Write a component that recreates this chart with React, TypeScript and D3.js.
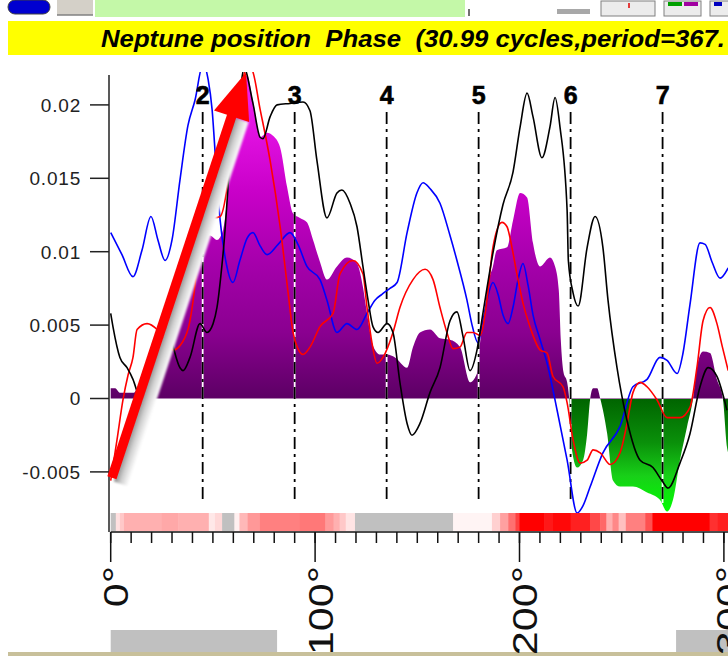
import React from 'react';
import * as d3 from 'd3';

const title = 'Neptune position  Phase  (30.99 cycles,period=367.';
const yTicks = [0.02, 0.015, 0.01, 0.005, 0, -0.005];
const yTickLabels = ['0.02', '0.015', '0.01', '0.005', '0', '-0.005'];
const xMajorTicks = [0, 100, 200, 300];
const xMajorLabels = ['0°', '100°', '200°', '300°'];
const xMinorTicks = d3.range(0, 301, 10);
const phaseLines = [45, 90, 135, 180, 225, 270];
const phaseLabels = ['2', '3', '4', '5', '6', '7'];

// [degree, value]
const fillSeries: [number, number][] = [
  [0, 0.0007], [2.2, 0.0007], [4.5, 0.0004], [8, 0.0004], [11.4, 0.0004], [14.3, 0.0011],
  [19.2, 0.0021], [24.1, 0.0033], [27.5, 0.0042], [30.5, 0.0053], [34.9, 0.0067], [37.3, 0.0074],
  [39.8, 0.0094], [42.2, 0.0105], [45.2, 0.011], [48.6, 0.0111], [52, 0.0108], [55, 0.0115],
  [56.9, 0.0135], [59.8, 0.0185], [63.2, 0.0208], [66.7, 0.022], [69.6, 0.0203], [73.1, 0.0178],
  [76.5, 0.0181], [79.4, 0.0179], [82.9, 0.0171], [86.3, 0.0144], [89.2, 0.0126], [92.6, 0.0123],
  [96, 0.012], [99, 0.0108], [102.4, 0.0093], [105.8, 0.0081], [110.7, 0.009], [115.6, 0.0096],
  [120.5, 0.0092], [123.4, 0.0076], [125.4, 0.0058], [128.3, 0.0036], [131.8, 0.003], [135.2, 0.003],
  [139.1, 0.0028], [145, 0.0021], [147.9, 0.0035], [151.3, 0.0045], [156.2, 0.0047], [161.1, 0.0041],
  [166, 0.004], [170.9, 0.0035], [175.8, 0.0011], [179.2, 0.0017], [180.7, 0.0038], [183.1, 0.006],
  [184.1, 0.0074], [187, 0.009], [188.9, 0.0101], [193.9, 0.0103], [196.8, 0.0121], [200.3, 0.014],
  [203.7, 0.0137], [206.6, 0.0106], [210.1, 0.009], [214.9, 0.0096], [217.4, 0.009], [219.2, 0.0074],
  [220.2, 0.004], [221.5, 0.0018], [223.3, 0.0011], [224.3, 0], [225.7, -0.0035], [228.2, -0.0047],
  [231.1, -0.0042], [233.1, -0.0024], [234.6, 0], [236, 0.0007], [238, 0.0007], [239.5, 0],
  [242.9, -0.0024], [245.8, -0.0056], [249.2, -0.006], [255.5, -0.006], [262.4, -0.0064],
  [268.7, -0.0069], [272.2, -0.0077], [275.1, -0.0069], [278.5, -0.0042], [282, -0.0019], [284.9, 0],
  [286.8, 0.0021], [289.8, 0.0032], [293.2, 0.0031], [296.6, 0.0013], [299.5, 0], [301.5, -0.0033],
  [303, -0.004],
];

const blueSeries: [number, number][] = [
  [0, 0.0113], [5.5, 0.0098], [10.9, 0.0083], [15.3, 0.0101], [19.7, 0.0124], [23.1, 0.0108],
  [26.6, 0.0094], [30, 0.0108], [33.9, 0.0149], [37.8, 0.0186], [41.2, 0.0203], [45.2, 0.0228],
  [47.7, 0.0217], [49.6, 0.0197], [51.5, 0.0159], [53.5, 0.0122], [56.4, 0.0093], [59.8, 0.0079],
  [63.2, 0.0094], [66.7, 0.0109], [69.6, 0.0113], [73.1, 0.0104], [76.5, 0.0098], [81.9, 0.0105],
  [87.7, 0.0113], [91.6, 0.0105], [96, 0.009], [102.4, 0.0081], [105.8, 0.0067], [110.7, 0.0045],
  [115.6, 0.0051], [120.5, 0.0047], [125.4, 0.0058], [129.3, 0.0067], [132.7, 0.0071], [136.6, 0.0075],
  [140.1, 0.0079], [145, 0.0113], [149.8, 0.014], [152.8, 0.0147], [156.2, 0.0143], [161.1, 0.0133],
  [166, 0.0111], [169.4, 0.0094], [174.3, 0.0067], [176.8, 0.005], [179.7, 0.0038], [182.1, 0.0053],
  [184.1, 0.0067], [187, 0.0079], [189.5, 0.0071], [191.9, 0.0057], [194.4, 0.0051], [196.8, 0.0062],
  [199.3, 0.0081], [201.7, 0.0092], [204.2, 0.0077], [206.6, 0.0057], [210.1, 0.004], [213.5, 0.0024],
  [218.4, -0.0008], [223.3, -0.0042], [228.2, -0.0078], [231.1, -0.0073], [234.6, -0.006],
  [240.8, -0.0037], [249.2, -0.0019], [255.5, 0.0008], [262.4, 0.0013], [268.7, 0.0028],
  [272.2, 0.0026], [277.1, 0.0017], [280, 0.0031], [283.4, 0.0064], [288.3, 0.0106], [290.8, 0.0105],
  [294.2, 0.0093], [298.1, 0.0082], [302.1, 0.0089],
];

const redSeries: [number, number][] = [
  [0, -0.0056], [3.1, -0.0028], [6, -0.0001], [8.5, 0.0016], [10.9, 0.0028], [12.9, 0.0047],
  [17.8, 0.0051], [22.7, 0.0047], [27.5, 0.0038], [30.5, 0.0033], [34.9, 0.0038], [38.8, 0.0053],
  [41.2, 0.0077], [43.7, 0.0117], [47.1, 0.0122], [53.5, 0.0124], [56.9, 0.0144], [59.8, 0.0185],
  [63.2, 0.0208], [66.7, 0.0226], [69.1, 0.0224], [73.1, 0.0197], [78, 0.0162], [82.9, 0.0117],
  [86.8, 0.0072], [89.2, 0.0045], [91.6, 0.0034], [94.1, 0.003], [97.5, 0.0035], [102.4, 0.0049],
  [108.8, 0.0058], [112.2, 0.0085], [118.5, 0.0094], [123.4, 0.0085], [125.4, 0.0062], [127.8, 0.0038],
  [130.3, 0.0024], [133.2, 0.0028], [138.1, 0.0045], [141.5, 0.0062], [147.9, 0.0081], [153.8, 0.0088],
  [157.7, 0.0081], [161.1, 0.0062], [164.5, 0.0045], [167.5, 0.0034], [170.9, 0.0035], [174.3, 0.0045],
  [177.3, 0.0045], [180.7, 0.0043], [184.1, 0.0067], [187, 0.0103], [191.4, 0.012], [193.9, 0.0117],
  [196.3, 0.0103], [198.7, 0.0085], [201.7, 0.0065], [205.1, 0.0049], [210.1, 0.0033], [213.5, 0.0031],
  [216.4, 0.0015], [221.3, 0.0008], [223.3, -0.0003], [226.2, -0.0028], [229.7, -0.0044],
  [233.1, -0.0042], [236, -0.0035], [239.5, -0.0037], [244.4, -0.0045], [249.2, -0.0037],
  [252.6, -0.0017], [255.5, 0.0004], [259, 0.0011], [262.4, 0.0008], [267.3, -0.0001], [272.2, -0.0013],
  [278.5, -0.0013], [283.4, -0.0006], [286.8, 0.0021], [289.8, 0.0053], [293.2, 0.0062],
  [296.6, 0.0051], [299.1, 0.0036], [302.1, 0.0019],
];

const blackSeries: [number, number][] = [
  [0, 0.0058], [1.1, 0.0049], [4.5, 0.0028], [8, 0.0021], [10.9, 0.0013], [14.3, -0.0001],
  [15.8, -0.0005], [18.2, -0.0001], [20.7, 0.0033], [24.1, 0.0049], [25.6, 0.0051], [29, 0.0042],
  [33.9, 0.0021], [35.4, 0.0019], [38.8, 0.0028], [43.7, 0.0051], [47.1, 0.0045], [50.1, 0.0051],
  [52, 0.0062], [55, 0.0099], [59.8, 0.0185], [63.2, 0.0208], [65.2, 0.0225], [69.6, 0.0201],
  [73.1, 0.0178], [74.5, 0.0177], [78, 0.0192], [81.4, 0.02], [87.7, 0.0201], [94.1, 0.0202],
  [97.5, 0.0196], [100.9, 0.0162], [105.8, 0.0123], [110.7, 0.014], [113.1, 0.0142], [117.1, 0.0133],
  [120.5, 0.0117], [123.4, 0.009], [125.9, 0.0067], [128.3, 0.0049], [130.8, 0.0045], [135.2, 0.0051],
  [138.1, 0.0045], [141.5, 0.0011], [145, -0.0017], [147.4, -0.0025], [151.3, -0.0017], [156.2, 0.0004],
  [161.1, 0.0021], [166, 0.0053], [169.4, 0.0059], [172.4, 0.0042], [175.8, 0.0019], [179.2, 0.0033],
  [182.1, 0.0058], [187, 0.0099], [191.9, 0.0132], [196.8, 0.0154], [200.3, 0.0185], [203.7, 0.0208],
  [206.6, 0.0192], [211, 0.0164], [214.9, 0.0185], [217.4, 0.0205], [219.8, 0.0185], [223.3, 0.0128],
  [223.9, 0.0094], [226.2, 0.0072], [228.7, 0.0063], [233.1, 0.0103], [237, 0.0124], [240.8, 0.0103],
  [243.3, 0.0067], [247.7, 0.0021], [252.6, -0.0015], [259, -0.0042], [265.3, -0.0047],
  [269.7, -0.0056], [272.7, -0.0061], [278.5, -0.0044], [283.4, -0.0024], [288.3, 0.0008],
  [292.3, 0.0021], [296.6, 0.0015], [301.5, -0.0008],
];

// colour band under the plot: [fromDeg, toDeg, colour]
const bandSegments: [number, number, string][] = [
  [0, 2.5, '#c0c0c0'], [2.5, 4.5, '#ffe0e0'], [4.5, 6.5, '#ffc8c8'], [6.5, 25, '#ffb0b0'],
  [25, 33, '#ffa8a8'], [33, 48, '#ffb0b0'], [48, 51, '#ffe8e8'], [51, 54.5, '#ffd8d8'],
  [54.5, 60.5, '#c0c0c0'], [60.5, 63, '#fff0f0'], [63, 67, '#ffb8b8'], [67, 73, '#ff9898'],
  [73, 92.5, '#ff8080'], [92.5, 105, '#ff7878'], [105, 109, '#ff9a9a'], [109, 112, '#ffb0b0'],
  [112, 115, '#ffc8c8'], [115, 119.5, '#ffe4e4'], [119.5, 167.5, '#c0c0c0'], [167.5, 186.5, '#fff4f4'],
  [186.5, 190.5, '#ffd0d0'], [190.5, 194.5, '#ffa0a0'], [194.5, 198, '#ff7070'], [198, 200, '#ff4040'],
  [200, 212, '#ff0000'], [212, 216, '#ff1818'], [216, 225, '#ff0808'], [225, 234.5, '#ff2020'],
  [234.5, 239.5, '#ff4848'], [239.5, 242.5, '#ff6868'], [242.5, 245.5, '#ffb0b0'], [245.5, 248.5, '#ff8888'],
  [248.5, 252, '#ffc0c0'], [252, 261.5, '#ff8080'], [261.5, 265, '#ff5050'], [265, 293, '#ff0000'],
  [293, 297, '#ff3030'], [297, 303, '#ff2020'],
];

const bottomBars: [number, number][] = [[0, 81.4], [276.6, 305]];

// arrow annotation: tail and tip as [degree, value]
const arrowTail: [number, number] = [0.6, -0.0054];
const arrowTip: [number, number] = [66.2, 0.0222];

export default function App() {
  const W = 728;
  const H = 656;
  const x = d3.scaleLinear().domain([0, 300]).range([110.7, 723.9]);
  const y = d3.scaleLinear().domain([-0.005, 0.02]).range([471.9, 104.9]);
  const y0 = y(0);
  const plotTop = 72;
  const plotBottom = 513;
  const plotLeft = 110;
  const axisY = 532;

  const line = d3
    .line<[number, number]>()
    .x((d) => x(d[0]))
    .y((d) => y(d[1]))
    .curve(d3.curveMonotoneX);
  const area = d3
    .area<[number, number]>()
    .x((d) => x(d[0]))
    .y0(y0)
    .y1((d) => y(d[1]))
    .curve(d3.curveMonotoneX);

  const off = (v: number) => Math.max(0, Math.min(1, (y(v) - plotTop) / (plotBottom - plotTop)));
  const fillStops: [number, string][] = [
    [0.0225, '#f22af2'],
    [0.018, '#e010e0'],
    [0.014, '#c800c8'],
    [0.009, '#a400aa'],
    [0.0045, '#8a0090'],
    [0.0, '#5c0064'],
    [-0.00001, '#006400'],
    [-0.003, '#0a900a'],
    [-0.0053, '#18d018'],
    [-0.0078, '#00ff00'],
  ];

  // arrow geometry
  const T = [x(arrowTip[0]), y(arrowTip[1])];
  const S = [x(arrowTail[0]), y(arrowTail[1])];
  const len = Math.hypot(T[0] - S[0], T[1] - S[1]);
  const u = [(T[0] - S[0]) / len, (T[1] - S[1]) / len];
  const n = [-u[1], u[0]];
  const headLen = 46;
  const headHalf = 18.5;
  const shaftHalf = 4.8;
  const B = [T[0] - headLen * u[0], T[1] - headLen * u[1]];
  const P = (p: number[], a: number, b: number) => [p[0] + a * n[0] + b * u[0], p[1] + a * n[1] + b * u[1]];
  const poly = (pts: number[][]) => pts.map((p) => p.join(',')).join(' ');
  const shaft = poly([P(S, -shaftHalf, 0), P(B, -shaftHalf, 2), P(B, shaftHalf, 2), P(S, shaftHalf, 0)]);
  const head = poly([T, P(B, headHalf, 0), P(B, -headHalf, 0)]);
  const shadow = poly([P(S, 3, -3), P(B, 3, 0), P(B, 18, 0), P(S, 18, -3)]);
  const sh1 = P(S, 3, 0);
  const sh2 = P(S, 18, 0);

  return (
    <svg
      width={W}
      height={H}
      style={{ position: 'absolute', left: 0, top: 0, display: 'block', background: '#fff' }}
      fontFamily="'Liberation Sans', Arial, sans-serif"
    >
      <defs>
        <clipPath id="plotClip">
          <rect x={plotLeft} y={plotTop} width={W - plotLeft} height={plotBottom - plotTop} />
        </clipPath>
        <linearGradient id="fillGrad" gradientUnits="userSpaceOnUse" x1={0} x2={0} y1={plotTop} y2={plotBottom}>
          {fillStops.map(([v, c], i) => (
            <stop key={i} offset={off(v)} stopColor={c} />
          ))}
        </linearGradient>
        <linearGradient id="shadowGrad" gradientUnits="userSpaceOnUse" x1={sh1[0]} y1={sh1[1]} x2={sh2[0]} y2={sh2[1]}>
          <stop offset={0} stopColor="#8a8a8a" />
          <stop offset={0.45} stopColor="#cfcfcf" />
          <stop offset={1} stopColor="#ffffff" />
        </linearGradient>
        <filter id="blur1" x="-20%" y="-20%" width="140%" height="140%">
          <feGaussianBlur stdDeviation={1.3} />
        </filter>
      </defs>

      <rect x={0} y={0} width={W} height={H} fill="#fff" />

      {/* toolbar */}
      <rect x={8} y={0} width={42} height={14} rx={7} fill="#0000d0" stroke="#404040" strokeWidth={1} />
      <rect x={57} y={0} width={36} height={15} fill="#d4d0c8" />
      <line x1={57} x2={93} y1={15} y2={15} stroke="#808080" strokeWidth={1.5} />
      <rect x={95} y={0} width={370} height={17} fill="#c4f8a8" />
      <line x1={469} x2={469} y1={9} y2={16} stroke="#404040" strokeWidth={1.5} />
      <rect x={557} y={9} width={33} height={5} fill="#a8a8a8" />
      <rect x={601} y={1} width={54} height={15} fill="#ececec" stroke="#808080" />
      <line x1={629} x2={629} y1={3} y2={8} stroke="#e00000" strokeWidth={1.5} />
      <rect x={664} y={1} width={37} height={15} fill="#ececec" stroke="#808080" />
      <rect x={668} y={2} width={14} height={4} fill="#00a000" />
      <rect x={684} y={2} width={14} height={4} fill="#a000a0" />
      <rect x={710} y={1} width={20} height={15} fill="#ececec" stroke="#808080" />
      <rect x={714} y={2} width={8} height={4} fill="#0000c0" />

      {/* title bar */}
      <rect x={8} y={21} width={W - 8} height={34} fill="#ffff00" />
      <text
        x={101}
        y={47}
        fontSize={24}
        fontWeight="bold"
        fontStyle="italic"
        fill="#000"
        textLength={624}
        lengthAdjust="spacingAndGlyphs"
        style={{ whiteSpace: 'pre' }}
      >
        {title}
      </text>

      {/* colour band */}
      {bandSegments.map(([a, b, c], i) => (
        <rect key={i} x={x(a)} y={plotBottom} width={Math.min(x(b), W) - x(a) + 0.5} height={18} fill={c} />
      ))}

      {/* bottom bars */}
      {bottomBars.map(([a, b], i) => (
        <rect key={i} x={x(a)} y={630} width={Math.min(x(b), W) - x(a)} height={22} fill="#c0c0c0" />
      ))}
      <rect x={8} y={652} width={W - 8} height={4} fill="#c8c09a" />

      {/* y axis */}
      <line x1={109} x2={109} y1={75} y2={axisY} stroke="#222" strokeWidth={1.5} />
      {yTicks.map((t, i) => (
        <g key={i}>
          <line x1={90} x2={109} y1={y(t)} y2={y(t)} stroke="#222" strokeWidth={1.5} />
          <text x={81} y={y(t)} dy="0.36em" textAnchor="end" fontSize={19} fill="#222" letterSpacing={0.8}>
            {yTickLabels[i]}
          </text>
        </g>
      ))}

      {/* x axis */}
      <line x1={x(0)} x2={W} y1={axisY} y2={axisY} stroke="#111" strokeWidth={1.5} />
      {xMinorTicks.map((t) => (
        <line key={t} x1={x(t)} x2={x(t)} y1={axisY} y2={543} stroke="#111" strokeWidth={1.5} />
      ))}
      {xMajorTicks.map((t, i) => (
        <g key={i}>
          <line x1={x(t)} x2={x(t)} y1={axisY} y2={562} stroke="#111" strokeWidth={1.5} />
          <text
            transform={`translate(${x(t) + 17.5},566) rotate(-90) scale(1.2,1)`}
            textAnchor="end"
            fontSize={36}
            fill="#111"
          >
            {xMajorLabels[i]}
          </text>
        </g>
      ))}

      {/* plot */}
      <g clipPath="url(#plotClip)">
        <path d={area(fillSeries) || ''} fill="url(#fillGrad)" />
        {phaseLines.map((p) => (
          <g key={p}>
            <line x1={x(p)} x2={x(p)} y1={112} y2={503} stroke="#fff" strokeWidth={1.8} />
            <line x1={x(p)} x2={x(p)} y1={112} y2={503} stroke="#000" strokeWidth={1.8} strokeDasharray="12,5,3,5" />
          </g>
        ))}
        <path d={line(blueSeries) || ''} fill="none" stroke="#0000ff" strokeWidth={1.6} />
        <path d={line(redSeries) || ''} fill="none" stroke="#ff0000" strokeWidth={1.6} />
        <path d={line(blackSeries) || ''} fill="none" stroke="#000" strokeWidth={1.6} />
      </g>

      {/* phase labels */}
      {phaseLines.map((p, i) => (
        <text key={p} x={x(p)} y={104} textAnchor="middle" fontSize={25} fontWeight="bold" fill="#000" stroke="#000" strokeWidth={0.6}>
          {phaseLabels[i]}
        </text>
      ))}

      {/* arrow */}
      <polygon points={shadow} fill="url(#shadowGrad)" filter="url(#blur1)" />
      <polygon points={shaft} fill="#ff0000" />
      <polygon points={head} fill="#ff0000" />
    </svg>
  );
}
